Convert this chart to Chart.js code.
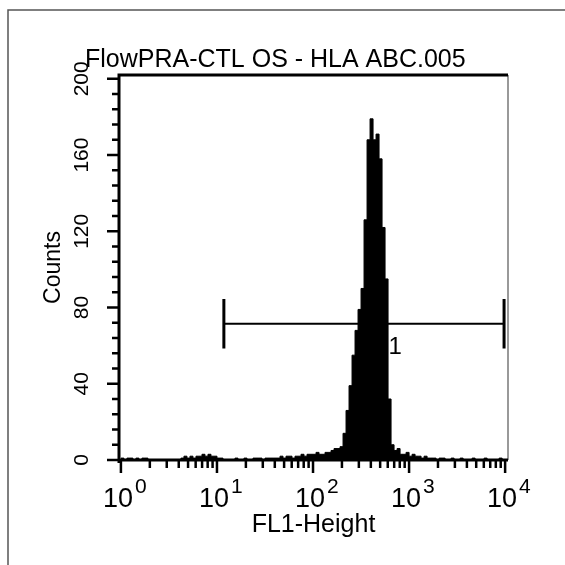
<!DOCTYPE html>
<html><head><meta charset="utf-8">
<script src="https://cdn.jsdelivr.net/npm/chart.js@4.4.1/dist/chart.umd.min.js"></script>
<style>html,body{margin:0;padding:0;background:#fff;overflow:hidden}#wrap{position:relative;width:565px;height:565px}</style>
</head><body><div id="wrap"><canvas id="c" width="565" height="565"></canvas></div>
<script>
// ---- data ----
const chartTitle = 'FlowPRA-CTL OS - HLA ABC.005';
const xAxisTitle = 'FL1-Height';
const yAxisTitle = 'Counts';
const channelsPerDecade = 32;            // histogram bins per decade (log channels)
const decadeValues = [1, 10, 100, 1000, 10000];
const decadeExponents = ['0', '1', '2', '3', '4'];
const yTickLabels = [0, 40, 80, 120, 160, 200];
const yMinorStep = 8;
const counts = [
  1,0,1,1,0,1,0,1,1,0,
  0,0,0,0,0,0,0,0,0,0,
  1,2,1,2,1,2,2,3,2,3,
  2,2,1,1,0,0,0,0,1,0,
  0,1,0,0,1,1,1,0,1,1,
  1,1,1,2,1,2,2,1,2,2,
  3,2,3,3,3,4,3,3,4,4,
  5,6,6,7,14,26,39,55,68,79,
  90,126,168,179,168,171,158,122,95,32,
  8,5,6,3,3,4,2,3,2,2,
  1,2,1,1,1,0,1,1,0,0,
  1,0,0,1,0,0,0,1,0,0,
  0,1,0,0,0,0,1,0
];
const gateName = '1';
const gateFrom = 11.8;
const gateTo = 9750;
const gateLevel = 71.5;
const gateBarHalf = 13;
const gateLabelX = 715;
const gateLabelY = 59;

// ---- build ----
const points = counts.map((c, i) => ({ x: Math.pow(10, i / channelsPerDecade), y: c }));
points.push({ x: Math.pow(10, counts.length / channelsPerDecade), y: counts[counts.length - 1] });

const SANS = '"Liberation Sans", Arial, sans-serif';
const NARROW = '"Liberation Sans Narrow", "Liberation Sans", sans-serif';

const framePlugin = {
  id: 'frame',
  afterDraw(chart) {
    const ctx = chart.ctx;
    const xs = chart.scales.x, ys = chart.scales.y;
    const a = chart.chartArea;
    ctx.save();
    // outer box
    ctx.strokeStyle = '#555';
    ctx.lineWidth = 1.5;
    ctx.beginPath();
    ctx.moveTo(8, 565); ctx.lineTo(8, 10); ctx.lineTo(565, 10);
    ctx.stroke();
    // right frame (thin)
    ctx.lineWidth = 1.2;
    ctx.beginPath(); ctx.moveTo(a.right, a.top); ctx.lineTo(a.right, a.bottom); ctx.stroke();
    // thick axes
    ctx.strokeStyle = '#000';
    ctx.lineWidth = 3;
    ctx.beginPath();
    ctx.moveTo(a.left, a.bottom + 3); ctx.lineTo(a.left, a.top); ctx.lineTo(a.right, a.top);
    ctx.moveTo(a.left, a.bottom); ctx.lineTo(a.right, a.bottom);
    ctx.stroke();
    // y ticks
    ctx.lineWidth = 2.5;
    ctx.beginPath();
    for (let v = 0; v <= 200; v += yMinorStep) {
      const py = ys.getPixelForValue(v);
      const len = yTickLabels.includes(v) ? 12 : 7;
      ctx.moveTo(a.left - len, py); ctx.lineTo(a.left, py);
    }
    ctx.stroke();
    // x ticks
    ctx.beginPath();
    decadeValues.forEach((d, k) => {
      const px = xs.getPixelForValue(d);
      ctx.moveTo(px, a.bottom); ctx.lineTo(px, a.bottom + 13);
      if (k < decadeValues.length - 1) {
        for (let m = 2; m <= 9; m++) {
          const pm = xs.getPixelForValue(d * m);
          ctx.moveTo(pm, a.bottom); ctx.lineTo(pm, a.bottom + 8);
        }
      }
    });
    ctx.stroke();
    // x labels 10^n
    ctx.fillStyle = '#000';
    ctx.textBaseline = 'alphabetic';
    decadeValues.forEach((d, k) => {
      const px = xs.getPixelForValue(d);
      ctx.font = '27px ' + SANS;
      ctx.textAlign = 'right';
      ctx.fillText('10', px + 12, 507);
      ctx.font = '21px ' + SANS;
      ctx.textAlign = 'left';
      ctx.fillText(decadeExponents[k], px + 14, 493);
    });
    // title
    ctx.font = '25px ' + SANS;
    ctx.textAlign = 'left';
    ctx.fillText(chartTitle, 85, 67);
    // gate marker
    const gy = ys.getPixelForValue(gateLevel);
    const gx1 = xs.getPixelForValue(gateFrom), gx2 = xs.getPixelForValue(gateTo);
    const gyT = ys.getPixelForValue(gateLevel + gateBarHalf), gyB = ys.getPixelForValue(gateLevel - gateBarHalf);
    ctx.lineWidth = 2;
    ctx.beginPath(); ctx.moveTo(gx1, gy); ctx.lineTo(gx2, gy); ctx.stroke();
    ctx.lineWidth = 3;
    ctx.beginPath();
    ctx.moveTo(gx1, gyT); ctx.lineTo(gx1, gyB);
    ctx.moveTo(gx2, gyT); ctx.lineTo(gx2, gyB);
    ctx.stroke();
    ctx.font = '24px ' + SANS;
    ctx.textAlign = 'center';
    ctx.textBaseline = 'middle';
    ctx.fillText(gateName, xs.getPixelForValue(gateLabelX), ys.getPixelForValue(gateLabelY));
    ctx.restore();
  }
};

new Chart(document.getElementById('c'), {
  type: 'line',
  data: { datasets: [{
    data: points, stepped: 'before', fill: 'origin',
    backgroundColor: '#000', borderColor: '#000', borderWidth: 1,
    pointRadius: 0, tension: 0
  }] },
  options: {
    responsive: false, animation: false, events: [], devicePixelRatio: 1,
    layout: { padding: { left: 0, top: 75, right: 57, bottom: 0 } },
    plugins: { legend: { display: false }, tooltip: { enabled: false }, title: { display: false } },
    scales: {
      x: {
        type: 'logarithmic', min: 0.955, max: 10715, position: 'bottom',
        afterFit: s => { s.height = 105; },
        grid: { display: false, drawTicks: false }, border: { display: false },
        ticks: { display: false },
        title: { display: true, text: xAxisTitle, color: '#000', font: { family: SANS, size: 25 }, padding: { top: 25, bottom: 25 } }
      },
      y: {
        type: 'linear', min: 0, max: 202, position: 'left',
        afterFit: s => { s.width = 119; },
        grid: { display: false, drawTicks: false }, border: { display: false },
        ticks: {
          stepSize: yMinorStep, includeBounds: false, autoSkip: false,
          minRotation: 90, maxRotation: 90, crossAlign: 'center', padding: 19,
          callback: v => yTickLabels.includes(v) ? String(v) : '',
          color: '#000', font: { family: NARROW, size: 21 }
        },
        title: { display: true, text: yAxisTitle, color: '#000', font: { family: NARROW, size: 23 }, padding: { top: 40, bottom: 40 } }
      }
    }
  },
  plugins: [framePlugin]
});
</script>
</body></html>
